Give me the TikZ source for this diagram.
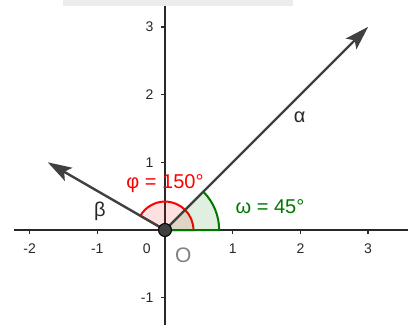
\documentclass[tikz,border=0pt]{standalone}
\usepackage{fontspec}
\setmainfont{Liberation Sans}
\usetikzlibrary{arrows.meta}
\definecolor{axisgray}{RGB}{40,40,40}
\definecolor{vecgray}{RGB}{64,64,64}
\definecolor{angred}{RGB}{255,0,0}
\definecolor{anggreen}{RGB}{0,120,0}
\tikzset{
  axisline/.style={line width=1.4pt,axisgray},
  ticklab/.style={font=\fontsize{14}{14}\selectfont,text=axisgray,inner sep=0pt},
  vec/.style={line width=2.4pt,vecgray,-{Stealth[length=24pt,width=15pt,inset=5pt]}},
  anglab/.style={font=\fontsize{20}{20}\selectfont,inner sep=0pt},
}
\begin{document}
\begin{tikzpicture}[x=67.7pt,y=67.7pt]
\useasboundingbox (-2.437,-1.403) rectangle (3.589,3.397);
\fill[gray!15] (-1.507,3.31) rectangle (1.89,3.397);
% axes
\draw[axisline] (-2.23,0) -- (3.589,0);
\draw[axisline] (0,-1.403) -- (0,3.31);
\foreach \x in {-2,-1,1,2,3}{
  \draw[axisline] (\x,0) -- (\x,-0.06);
  \node[ticklab] (xl\x) at (\x,-0.27) {\x};
}
\foreach \y in {-1,1,2,3}{
  \draw[axisline] (0,\y) -- (-0.06,\y);
  \node[ticklab,anchor=east] (yl\y) at (-0.17,\y) {\y};
}
\node[ticklab] (zero) at (-0.27,-0.27) {0};
% angles
\coordinate (O) at (0,0);
\coordinate (A) at (45:4.243);
\coordinate (B) at (150:2);
\filldraw[angred,line width=2pt,fill=angred,fill opacity=0.12] (O) -- (0.42,0) arc (0:150:0.42) -- cycle;
\filldraw[anggreen,line width=2pt,fill=anggreen,fill opacity=0.12] (O) -- (0.8,0) arc (0:45:0.8) -- cycle;
% vectors
\draw[vec] (O) -- (A);
\draw[vec] (O) -- (B);
\node[circle,fill=vecgray,draw=black,line width=1pt,minimum size=13pt,inner sep=0pt] (dot) at (O) {};
% labels
\node[anglab,text=angred] (phi) at (0,0.68) {φ = 150°};
\node[anglab,text=anggreen] (omega) at (1.55,0.34) {ω = 45°};
\node[anglab,text=axisgray] (alpha) at (1.99,1.67) {α};
\node[anglab,text=axisgray] (beta) at (-0.96,0.27) {β};
\node[font=\fontsize{21}{21}\selectfont,text=gray,inner sep=0pt] (orig) at (0.27,-0.37) {O};
\end{tikzpicture}
\end{document}
